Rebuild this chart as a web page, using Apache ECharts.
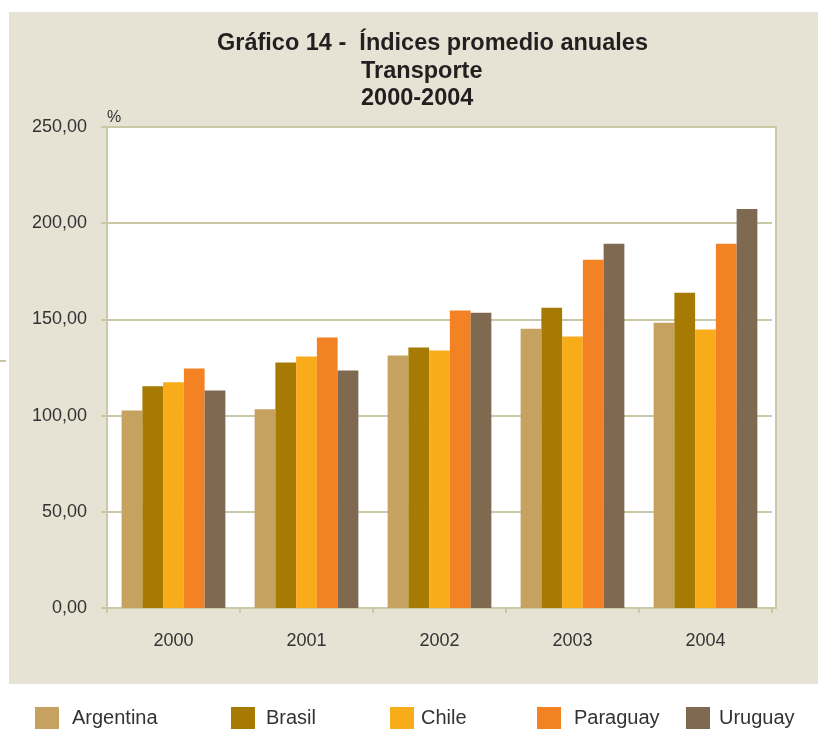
<!DOCTYPE html>
<html>
<head>
<meta charset="utf-8">
<script src="https://cdn.jsdelivr.net/npm/echarts@6/dist/echarts.min.js"></script>
<style>
  html, body { margin: 0; padding: 0; background: #fff; }
  #chart { width: 818px; height: 729px; }
</style>
</head>
<body>
<div id="chart"></div>
<script>
// datos
var years = ['2000', '2001', '2002', '2003', '2004'];
var argentina = [102.7, 103.3, 131.2, 145.2, 148.3];
var brasil = [115.2, 127.6, 135.4, 156.1, 163.9];
var chile = [117.3, 130.7, 133.8, 141.1, 144.7];
var paraguay = [124.5, 140.6, 154.6, 181.0, 189.3];
var uruguay = [113.1, 123.5, 153.5, 189.3, 207.4];

var font = "'Liberation Sans', Arial, sans-serif";
var colores = ['#c6a261', '#a67a03', '#f9ac1a', '#f28224', '#7f6950'];
var nombres = ['Argentina', 'Brasil', 'Chile', 'Paraguay', 'Uruguay'];
var datos = [argentina, brasil, chile, paraguay, uruguay];
var legendLeft = [35, 231, 390, 537, 686];
var legendPad = [8, 6, 2, 8, 4];
var gris = '#cbc8a8';

var chart = echarts.init(document.getElementById('chart'));

var series = [];
var legends = [];
for (var i = 0; i < nombres.length; i++) {
    series.push({
        name: nombres[i],
        type: 'bar',
        data: datos[i],
        barGap: '0%',
        barCategoryGap: '22%',
        itemStyle: { color: colores[i] }
    });
    legends.push({
        data: [nombres[i]],
        left: legendLeft[i],
        top: 707,
        padding: 0,
        itemWidth: 24,
        itemHeight: 22,
        icon: 'rect',
        textStyle: { fontFamily: font, fontSize: 20, color: '#333', padding: [0, 0, 0, legendPad[i]] }
    });
}

var tituloStyle = { fontFamily: font, fontSize: 23.5, fontWeight: 'bold', fill: '#231f20' };

var option = {
    backgroundColor: '#fff',
    animation: false,
    graphic: [
        { type: 'rect', shape: { x: 9, y: 12, width: 809, height: 672 }, style: { fill: '#e6e3d4' }, z: -10 },
        { type: 'rect', shape: { x: 0, y: 360, width: 6, height: 2 }, style: { fill: '#c8c59f' }, z: -10 },
        { type: 'rect', shape: { x: 107, y: 127, width: 669, height: 481 }, style: { fill: '#fff', stroke: gris, lineWidth: 2 }, z: -5 },
        { type: 'text', left: 107, top: 110, style: { text: '%', fontFamily: font, fontSize: 16, fill: '#333' } },
        { type: 'text', left: 217, top: 32, style: echarts.util.extend({ text: 'Gráfico 14 -  Índices promedio anuales' }, tituloStyle) },
        { type: 'text', left: 361, top: 60, style: echarts.util.extend({ text: 'Transporte' }, tituloStyle) },
        { type: 'text', left: 361, top: 87, style: echarts.util.extend({ text: '2000-2004' }, tituloStyle) }
    ],
    legend: legends,
    grid: { left: 107, right: 46, top: 127, bottom: 121 },
    xAxis: {
        type: 'category',
        data: years,
        axisLine: { lineStyle: { color: gris, width: 2 } },
        axisTick: { show: true, length: 5, lineStyle: { color: gris, width: 2 } },
        axisLabel: { fontFamily: font, fontSize: 18, color: '#333', margin: 24 }
    },
    yAxis: {
        type: 'value',
        min: 0, max: 250, interval: 50,
        axisLine: { show: true, lineStyle: { color: gris, width: 2 } },
        axisTick: { show: true, length: 6, lineStyle: { color: gris, width: 2 } },
        splitLine: { lineStyle: { color: gris, width: 2 } },
        axisLabel: {
            fontFamily: font, fontSize: 18, color: '#333', margin: 20,
            formatter: function (v) { return v.toFixed(2).replace('.', ','); }
        }
    },
    series: series
};

chart.setOption(option);
</script>
</body>
</html>
